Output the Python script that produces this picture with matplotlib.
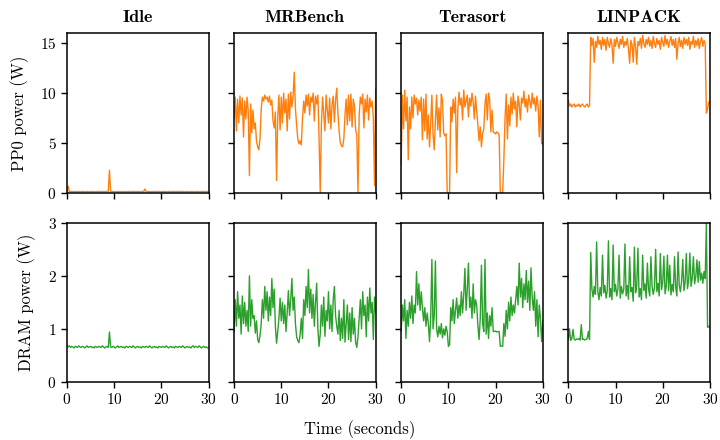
import matplotlib
matplotlib.use("Agg")
import matplotlib.pyplot as plt
import numpy as np

# Computer Modern ships with matplotlib itself
plt.rcParams["font.family"] = ["cmr10", "DejaVu Serif"]
plt.rcParams["axes.formatter.use_mathtext"] = True
plt.rcParams["font.size"] = 10

_PP0 = "#ff7f0e"
_DRAM = "#2ca02c"

workloads = ["Idle", "MRBench", "Terasort", "LINPACK"]
time_s = np.arange(121) * 0.25  # sample times, seconds

# ---------------------------------------------------------------------------
# PP0 (core) power, W
# ---------------------------------------------------------------------------
pp0_idle = [
    0.10, 0.65, 0.10, 0.09, 0.11, 0.10, 0.08, 0.10, 0.11, 0.09, 0.10, 0.10, 0.09,
    0.11, 0.10, 0.08, 0.10, 0.11, 0.09, 0.10, 0.10, 0.11, 0.09, 0.10, 0.08, 0.10,
    0.11, 0.10, 0.09, 0.10, 0.11, 0.10, 0.09, 0.10, 0.11, 0.10, 2.25, 0.10, 0.09,
    0.11, 0.10, 0.08, 0.10, 0.11, 0.09, 0.10, 0.10, 0.11, 0.09, 0.10, 0.08, 0.10,
    0.11, 0.10, 0.09, 0.10, 0.11, 0.10, 0.09, 0.10, 0.11, 0.10, 0.09, 0.10, 0.11,
    0.10, 0.35, 0.10, 0.09, 0.11, 0.10, 0.08, 0.10, 0.11, 0.09, 0.10, 0.10, 0.11,
    0.09, 0.10, 0.08, 0.10, 0.11, 0.10, 0.09, 0.10, 0.11, 0.10, 0.09, 0.10, 0.11,
    0.10, 0.09, 0.10, 0.11, 0.10, 0.09, 0.10, 0.11, 0.10, 0.08, 0.10, 0.11, 0.09,
    0.10, 0.10, 0.11, 0.09, 0.10, 0.08, 0.10, 0.11, 0.10, 0.09, 0.10, 0.11, 0.10,
    0.09, 0.10, 0.11, 0.10,
]
pp0_mrbench = [
    7.5, 9.6, 6.2, 9.4, 7.0,
    9.7, 7.8, 9.5, 5.6, 9.2, 7.4, 9.6, 8.2,
    1.7,
    8.9, 6.0, 8.3, 6.4, 7.0, 5.2, 4.6, 4.3, 5.5,
    8.4, 9.6, 9.2, 9.8, 9.4, 9.6, 9.1, 9.7, 8.8, 9.3,
    7.2, 6.5, 8.1, 1.2,
    7.5, 9.8, 6.3, 9.6, 7.0, 10.0, 8.0, 9.4, 6.2, 9.9, 7.4, 10.1, 8.6, 9.7,
    12.1,
    8.4, 6.8, 5.4, 4.9, 5.2, 4.8, 7.5, 9.2, 8.0,
    9.8, 8.7, 9.9, 7.8, 9.6, 9.1, 10.0, 7.2, 9.7, 8.9, 9.8, 5.6,
    0.0,
    6.8, 9.6, 7.9, 6.2, 9.8, 8.3, 7.0, 9.5, 6.4, 8.8, 9.7, 7.1, 9.3,
    10.5,
    8.0, 6.2, 5.0, 4.7, 4.6, 5.4, 7.8, 9.4, 6.8,
    9.8, 7.2, 9.9, 6.6, 9.4, 8.7, 6.3, 5.8,
    0.0,
    7.8, 9.6, 8.9, 9.9, 6.5, 9.4, 8.1, 9.8, 7.3, 9.5, 8.6, 9.2, 7.5,
    0.7, 10.5,
]
pp0_terasort = [
    2.8,
    9.8, 6.4, 10.3, 7.2, 9.6,
    3.3,
    8.6, 6.4, 9.6, 7.5, 9.8, 8.9, 9.5, 7.8, 9.3, 8.2, 9.6, 5.3,
    9.4, 6.2, 9.9, 5.4, 7.8, 4.6, 6.9, 9.8, 5.8, 4.3, 7.2,
    9.8, 6.3, 8.5, 5.6, 9.9, 9.3, 6.0, 5.7, 5.9,
    0.0, 0.0, 0.0,
    8.6, 7.1, 9.4, 8.0, 9.6, 2.0,
    8.4, 10.1, 8.8, 9.5, 7.3, 10.3, 8.6, 9.2, 9.8, 7.6, 9.5, 8.7, 10.0, 9.1,
    7.4, 9.7, 8.2,
    6.8, 5.2, 6.6, 4.6, 5.9, 6.4, 8.9, 9.9, 7.3, 10.0, 9.4, 6.1, 8.3,
    6.1, 6.0, 5.9, 6.1, 6.0, 5.8,
    0.0, 0.0, 0.0,
    3.3,
    7.5, 9.9, 5.4, 8.8, 6.7, 9.6, 7.9, 10.0, 8.4, 9.2, 6.6, 9.7, 8.9, 7.3, 9.5,
    9.0, 10.2, 8.6, 9.4, 8.1, 9.8, 9.1, 8.5, 10.0, 8.9, 9.5, 8.2, 9.7, 8.8,
    5.6, 9.3, 4.9, 5.0,
]
pp0_linpack = [
    9.3, 8.7, 8.9, 8.6, 8.8, 8.9, 8.6, 8.8, 8.7, 8.9, 8.6, 8.8, 8.9, 8.7, 8.6,
    8.8, 8.9, 8.6, 8.8,
    15.6,
    14.8, 15.5, 13.1, 15.2, 14.6, 15.7, 14.9, 15.3, 14.4, 15.6,
    14.8, 15.4, 14.3, 15.6, 15.0, 14.6, 15.5, 14.9, 13.0, 15.4,
    14.7, 15.6, 15.1, 14.5, 15.4, 14.9, 15.7, 14.6, 15.2, 14.8,
    15.5, 14.4, 13.0, 15.3, 14.9, 13.1, 15.6, 14.7, 12.9, 15.2,
    14.8, 15.5, 14.5, 15.8, 15.0, 14.6, 15.4, 14.9, 15.6, 14.7,
    15.3, 14.5, 15.7, 15.0, 14.6, 15.5, 14.9, 15.3, 14.4, 15.6,
    15.1, 14.7, 15.8, 14.9, 15.4, 14.6, 15.2, 15.7, 14.8, 15.4,
    14.6, 15.5, 13.4, 15.0, 15.6, 14.7, 15.3, 14.5, 15.6, 14.9,
    15.4, 14.8, 15.6, 14.4, 15.2, 14.9, 15.7, 14.6, 15.3, 14.8,
    15.5, 14.5, 15.2, 15.6, 14.7, 15.3, 14.9,
    8.0, 8.4, 9.1, 9.0,
]

# ---------------------------------------------------------------------------
# DRAM power, W
# ---------------------------------------------------------------------------
dram_idle = [
    0.69, 0.66, 0.68, 0.65, 0.67, 0.66, 0.64, 0.67, 0.66, 0.65, 0.68, 0.66, 0.65,
    0.67, 0.66, 0.64, 0.66, 0.68, 0.65, 0.66, 0.67, 0.65, 0.66, 0.64, 0.67, 0.66,
    0.65, 0.67, 0.66, 0.65, 0.68, 0.66, 0.64, 0.66, 0.67, 0.65, 0.94, 0.66, 0.65,
    0.67, 0.66, 0.64, 0.66, 0.68, 0.65, 0.66, 0.67, 0.65, 0.66, 0.64, 0.67, 0.66,
    0.65, 0.67, 0.66, 0.65, 0.68, 0.66, 0.64, 0.66, 0.67, 0.65, 0.66, 0.64, 0.67,
    0.66, 0.65, 0.67, 0.66, 0.65, 0.68, 0.66, 0.64, 0.66, 0.67, 0.65, 0.66, 0.64,
    0.67, 0.66, 0.65, 0.67, 0.66, 0.65, 0.68, 0.66, 0.64, 0.66, 0.67, 0.65, 0.66,
    0.64, 0.67, 0.66, 0.65, 0.67, 0.66, 0.65, 0.68, 0.66, 0.64, 0.66, 0.67, 0.65,
    0.66, 0.64, 0.67, 0.68, 0.65, 0.67, 0.66, 0.65, 0.68, 0.66, 0.64, 0.66, 0.67,
    0.65, 0.66, 0.64, 0.65,
]
dram_mrbench = [
    0.95, 1.55, 1.05, 1.70, 1.20, 1.45,
    0.90, 1.62, 1.10, 1.50, 1.05, 1.35, 0.95,
    2.00,
    1.05, 1.55, 1.20,
    1.25, 0.92, 1.15, 0.80, 0.74, 0.88, 1.10,
    1.55, 1.20, 1.80, 1.35, 1.70, 1.15, 1.60, 1.25, 1.95, 1.40, 1.75,
    1.05, 0.73, 0.95, 1.20,
    1.58, 1.15, 1.50, 1.10, 1.45, 0.95, 1.30, 1.72, 1.25, 1.55, 1.95, 1.35,
    1.60, 1.10, 0.85, 0.78, 0.74, 0.90, 1.20, 0.82,
    1.55, 1.25, 1.80, 1.40, 2.12, 1.30, 1.75, 1.20, 1.65, 1.05, 1.50, 1.86,
    1.00, 0.67, 0.90,
    1.45, 1.05, 1.60, 0.86, 1.35, 1.15, 1.70, 1.00, 1.45, 0.95, 1.55, 1.80,
    1.25, 1.05,
    0.90, 1.35, 0.78, 1.20, 0.82, 1.55, 0.75, 1.10, 1.45, 0.80, 1.30, 0.76,
    1.40, 0.90, 1.20, 0.75,
    0.65,
    0.85, 1.20, 1.55, 1.00, 1.70, 1.25, 1.45, 0.85, 1.60, 1.15, 1.77, 1.30,
    1.50, 0.80, 1.60, 1.30,
]
dram_terasort = [
    0.95, 1.45, 1.15, 1.55, 0.82, 1.35, 1.05, 1.50, 1.20, 1.62, 1.10, 1.45, 1.30,
    2.08,
    1.45, 1.85, 1.35, 1.70, 1.40,
    1.15, 1.40, 1.05, 1.30, 1.10,
    0.76, 1.20, 2.31, 1.00, 1.25, 2.28, 1.00,
    0.85, 1.05, 0.90, 1.10, 0.83, 1.00, 0.88, 1.05, 0.95,
    0.67, 0.70,
    1.40, 1.15, 1.55, 1.10, 1.35, 1.58, 1.20, 1.45,
    1.25, 1.70, 1.30, 1.65, 2.14, 1.35, 1.75, 2.24, 1.40, 1.60, 1.20, 1.85,
    1.30, 1.55, 1.45, 1.05,
    0.80, 1.20, 2.20, 1.10, 0.95, 2.31, 0.90, 1.30, 0.82, 1.25, 1.05, 1.40,
    0.95, 0.95, 0.96, 0.94, 0.95, 0.95,
    0.67, 0.68, 0.67,
    1.10, 0.86, 1.35, 1.00, 1.50, 1.15, 1.60, 1.25, 1.45, 1.30, 1.55,
    1.80, 1.45, 2.24, 1.60, 1.95, 1.40, 1.85, 1.55, 2.10, 1.50, 1.90, 1.35,
    2.15, 1.60,
    1.35, 1.70, 1.05, 1.55, 0.85, 1.45, 1.20, 0.76, 1.15,
]
dram_linpack = [
    0.80, 1.00, 0.78, 0.82, 0.99, 0.80, 0.79, 0.81, 0.80, 0.82, 0.79, 1.08,
    0.80, 0.81, 0.79, 0.80, 0.82, 0.95, 0.80,
    2.44,
    1.75, 1.60, 1.80, 1.65, 2.64, 1.70, 1.55, 1.78, 1.62, 2.39,
    1.68, 1.82, 1.58, 1.72, 2.66, 1.60, 1.76, 1.55, 2.58, 1.70,
    1.84, 1.62, 1.75, 2.39, 1.58, 1.80, 1.66, 1.74, 2.60, 1.62,
    1.82, 1.56, 2.36, 1.70, 1.78, 1.52, 2.54, 1.68, 1.82, 2.52,
    1.60, 1.76, 1.55, 2.39, 1.72, 1.85, 1.58, 2.24, 1.75, 1.62,
    2.36, 1.80, 1.65, 1.78, 2.50, 1.70, 1.86, 1.62, 2.42, 1.74,
    1.88, 2.37, 1.66, 1.80, 2.39, 1.72, 2.20, 1.64, 1.84, 1.70,
    2.36, 1.78, 1.62, 2.45, 1.82, 1.70, 1.90, 2.31, 1.72, 1.88,
    2.42, 1.76, 1.92, 2.43, 1.80, 1.95, 2.36, 1.85, 1.98, 2.30,
    1.88, 2.27, 1.92, 2.05, 1.86, 2.08, 1.95,
    3.00,
    1.03, 1.05, 1.02,
]

pp0_series = [pp0_idle, pp0_mrbench, pp0_terasort, pp0_linpack]
dram_series = [dram_idle, dram_mrbench, dram_terasort, dram_linpack]

fig, axes = plt.subplots(
    2, 4, figsize=(7.2, 4.4), dpi=100, sharex=True, sharey="row",
    gridspec_kw=dict(left=0.093, right=0.986, top=0.924, bottom=0.132,
                     wspace=0.18, hspace=0.19),
)

for col, name in enumerate(workloads):
    top, bot = axes[0, col], axes[1, col]
    top.plot(time_s, pp0_series[col], color=_PP0, lw=1.0)
    bot.plot(time_s, dram_series[col], color=_DRAM, lw=1.0)
    top.set_title(name, fontfamily=["cmb10", "DejaVu Serif"], fontsize=13, pad=8)
    for ax in (top, bot):
        ax.set_xlim(0, 30)
        ax.set_xticks([0, 10, 20, 30])
        ax.tick_params(direction="out", length=4, width=1, labelsize=11)
        for sp in ax.spines.values():
            sp.set_linewidth(1.1)

axes[0, 0].set_ylim(0, 16)
axes[0, 0].set_yticks([0, 5, 10, 15])
axes[1, 0].set_ylim(0, 3)
axes[1, 0].set_yticks([0, 1, 2, 3])
axes[0, 0].set_ylabel("PP0 power (W)", fontsize=12, labelpad=8)
axes[1, 0].set_ylabel("DRAM power (W)", fontsize=12, labelpad=8)
fig.text(0.5, 0.002, "Time (seconds)", ha="center", va="bottom", fontsize=12)

fig.savefig("out.png", dpi=100)
